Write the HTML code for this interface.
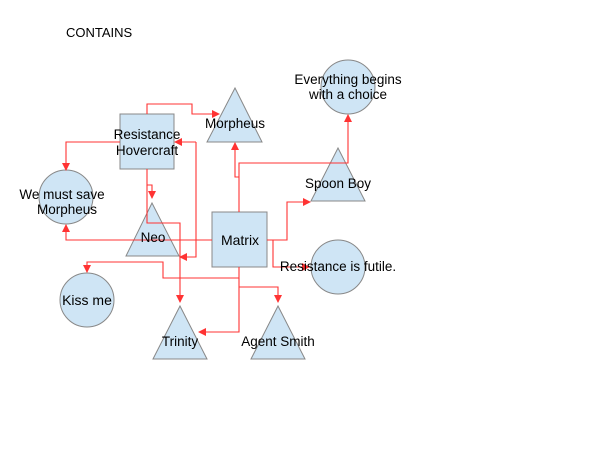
<!DOCTYPE html>
<html><head><meta charset="utf-8"><style>
html,body{margin:0;padding:0;background:#fff;}
svg{display:block;font-family:"Liberation Sans",Arial,sans-serif;}
</style></head><body>
<svg width="600" height="450" viewBox="0 0 600 450" xmlns="http://www.w3.org/2000/svg">
<defs>
<marker id="a" markerWidth="8" markerHeight="8" refX="7" refY="4" orient="auto" markerUnits="userSpaceOnUse">
<path d="M0,0 L8,4 L0,8 z" fill="#f33"/></marker>
</defs>
<text x="66" y="37" font-size="13" fill="#000">CONTAINS</text>
<g fill="#cfe5f5" stroke="#888" stroke-width="1">
<rect x="120" y="114" width="54" height="55"/>
<rect x="212" y="212" width="55" height="55"/>
<polygon points="235,88 207,142 262,142"/>
<polygon points="152,203 126,256 179,256"/>
<polygon points="180,306 153,359 207,359"/>
<polygon points="278,306 251,359 305,359"/>
<polygon points="338,148 311,201 365,201"/>
<circle cx="66" cy="197" r="27"/>
<circle cx="87" cy="300" r="27"/>
<circle cx="348" cy="87" r="27"/>
<circle cx="338" cy="267" r="27"/>
</g>
<g fill="none" stroke="#f33" stroke-width="1.1">
<polyline points="147,114 147,104 192,104 192,114 219,114" marker-end="url(#a)"/>
<polyline points="120,142 66,142 66,170" marker-end="url(#a)"/>
<polyline points="147,169 147,185 152,185 152,198" marker-end="url(#a)"/>
<polyline points="147,185 147,223 180,223 180,302" marker-end="url(#a)"/>
<polyline points="196,142 196,257 180,257" marker-end="url(#a)"/>
<polyline points="196,142 175,142" marker-end="url(#a)"/>
<polyline points="212,240 66,240 66,225" marker-end="url(#a)"/>
<polyline points="239,212 239,163 348,163 348,115" marker-end="url(#a)"/>
<polyline points="239,177 235,177 235,143" marker-end="url(#a)"/>
<polyline points="267,240 287,240 287,202 310,202" marker-end="url(#a)"/>
<polyline points="273,240 273,267 309,267" marker-end="url(#a)"/>
<polyline points="239,267 239,278 163,278 163,262 87,262 87,272" marker-end="url(#a)"/>
<polyline points="239,287 278,287 278,302" marker-end="url(#a)"/>
<polyline points="239,278 239,332 199,332" marker-end="url(#a)"/>
</g>
<g font-size="13.5" fill="#000" text-anchor="middle">
<text x="147" y="139">Resistance</text>
<text x="147" y="155">Hovercraft</text>
<text x="235" y="128">Morpheus</text>
<text x="62" y="199">We must save</text>
<text x="67" y="214">Morpheus</text>
<text x="153" y="242">Neo</text>
<text x="240" y="245" font-size="14">Matrix</text>
<text x="87" y="305" font-size="14">Kiss me</text>
<text x="180" y="346">Trinity</text>
<text x="278" y="346">Agent Smith</text>
<text x="338" y="188">Spoon Boy</text>
<text x="348" y="84">Everything begins</text>
<text x="348" y="99">with a choice</text>
<text x="338" y="271">Resistance is futile.</text>
</g>
</svg>
</body></html>
